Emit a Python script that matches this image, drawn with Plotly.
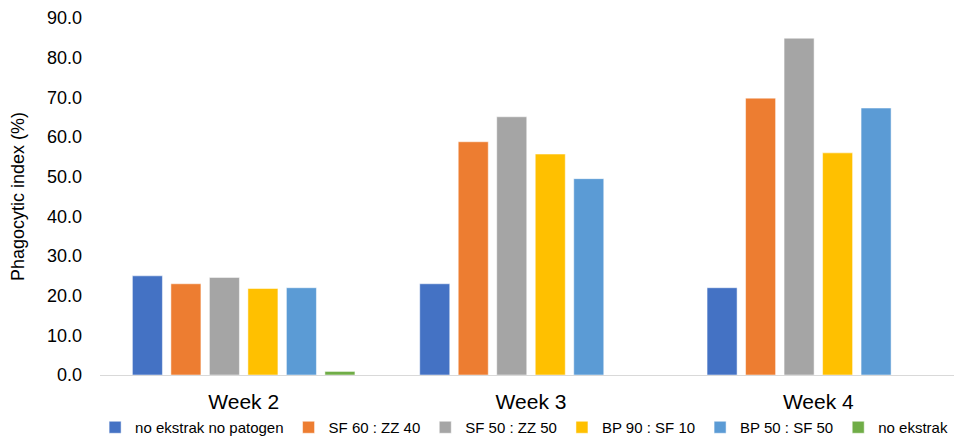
import plotly.graph_objects as go

categories = ["Week 2", "Week 3", "Week 4"]
series_names = ["no ekstrak no patogen", "SF 60 : ZZ 40", "SF 50 : ZZ 50",
                "BP 90 : SF 10", "BP 50 : SF 50", "no ekstrak"]
values = [
    [25.0, 23.0, 22.0],
    [23.0, 58.8, 69.8],
    [24.6, 65.1, 84.9],
    [21.8, 55.7, 56.0],
    [22.0, 49.5, 67.3],
    [0.9, None, None],
]
colors = ["#4472C4", "#ED7D31", "#A5A5A5", "#FFC000", "#5B9BD5", "#70AD47"]
y_ticks = [0, 10, 20, 30, 40, 50, 60, 70, 80, 90]

fig = go.Figure()
for name, vals, c in zip(series_names, values, colors):
    fig.add_trace(go.Bar(
        x=categories, y=vals, name=name,
        marker=dict(color=c, line=dict(color="rgba(255,255,255,0.5)", width=1)),
    ))

font_family = "Liberation Sans, Arial, sans-serif"
fig.update_layout(
    width=954, height=436,
    margin=dict(l=92, r=0, t=5, b=67),
    paper_bgcolor="white", plot_bgcolor="white",
    barmode="group", bargap=0.196, bargroupgap=0.22,
    font=dict(family=font_family, color="#000000"),
    showlegend=True,
    legend=dict(orientation="h", x=0.492, xanchor="center", y=-0.148, yanchor="middle",
                font=dict(size=15, color="#000000"), traceorder="normal",
                itemwidth=30),
    xaxis=dict(showgrid=False, showline=True, linecolor="#D9D9D9", linewidth=1,
               ticks="", tickfont=dict(size=21), zeroline=False,
               ticklabelstandoff=8),
    yaxis=dict(range=[0, 90], tickvals=y_ticks, tickformat=".1f", showgrid=False,
               showline=False, zeroline=False, ticks="", tickfont=dict(size=18),
               ticklabelstandoff=17, ticklabeloverflow="allow",
               title=dict(text="Phagocytic index (%)", font=dict(size=18), standoff=17)),
)
fig.write_html("out.html")
